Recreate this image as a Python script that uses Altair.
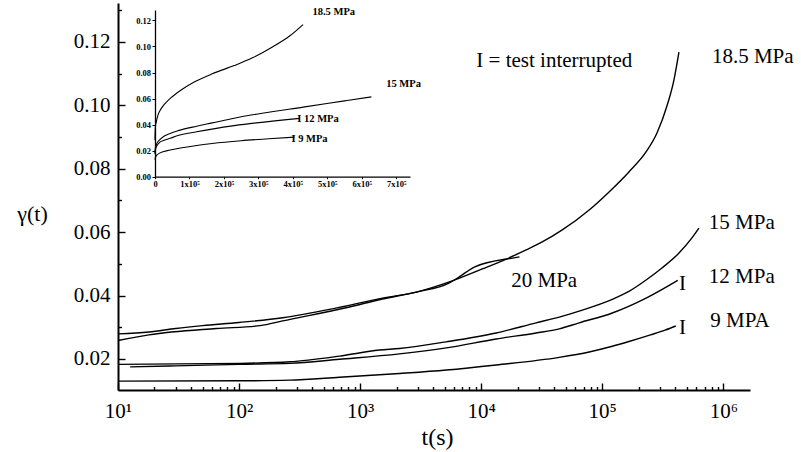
import altair as alt
import pandas as pd

FONT = "Liberation Serif, Times New Roman, Times, DejaVu Serif, serif"

# ---------------- data ----------------
t_185 = [10, 18, 30, 50, 100, 229, 590, 1530, 2920, 5460, 10200, 16100, 23500,
         31900, 46700, 77900, 113800, 166000, 229700, 283000, 342000, 390600,
         429700]
v_185 = [0.0279, 0.0285, 0.0296, 0.0305, 0.0315, 0.0330, 0.0358, 0.0392, 0.0411,
         0.0443, 0.0484, 0.0515, 0.0544, 0.0569, 0.0607, 0.0670, 0.0727, 0.0790,
         0.0853, 0.0913, 0.0998, 0.1080, 0.1168]

t_20 = [10, 18, 65, 149, 229, 816, 1530, 2920, 5460, 6600, 8750, 18600, 20700]
v_20 = [0.0258, 0.0276, 0.0296, 0.0305, 0.0320, 0.0364, 0.0389, 0.0411, 0.0440,
        0.0459, 0.0490, 0.0519, 0.0522]

t_15 = [10, 101, 262, 676, 1440, 2110, 5150, 13300, 28400, 44100, 64400, 121000,
        166000, 230000, 311000, 430000, 550000, 628000]
v_15 = [0.0183, 0.0186, 0.0191, 0.0209, 0.0228, 0.0233, 0.0254, 0.0282, 0.0314,
        0.0332, 0.0351, 0.0388, 0.0413, 0.0449, 0.0487, 0.0534, 0.0582, 0.0613]

t_12 = [12.6, 30, 101, 262, 676, 2110, 5150, 13300, 28400, 44100, 64400, 121000,
        230000, 420000]
v_12 = [0.0175, 0.0178, 0.0183, 0.0186, 0.0199, 0.0216, 0.0235, 0.0263, 0.0282,
        0.0295, 0.0314, 0.0345, 0.0392, 0.0448]

t_9 = [10, 101, 262, 676, 2110, 5150, 13300, 44100, 77900, 121000, 166000,
       250000, 330000, 405000]
v_9 = [0.0130, 0.0131, 0.0133, 0.0142, 0.0154, 0.0165, 0.0181, 0.0205, 0.0222,
       0.0240, 0.0255, 0.0276, 0.0291, 0.0304]

series_names = ["18.5 MPa", "20 MPa", "15 MPa", "12 MPa", "9 MPa"]
series_t = [t_185, t_20, t_15, t_12, t_9]
series_v = [v_185, v_20, v_15, v_12, v_9]
inset_series = ["18.5 MPa", "15 MPa", "12 MPa", "9 MPa"]

# main annotations
ann_text = ["I = test interrupted", "18.5 MPa", "15 MPa", "12 MPa", "9 MPA", "20 MPa"]
ann_t = [9120, 804000, 759000, 759000, 780000, 17700]
ann_v = [0.1140, 0.1153, 0.0629, 0.0459, 0.0320, 0.0446]

# "I" = test interrupted markers
mark_text = ["I", "I"]
mark_t = [460000, 460000]
mark_v = [0.0437, 0.0298]

# inset annotations
inset_text = ["18.5 MPa", "15 MPa", "I  12 MPa", "I 9 MPa"]
inset_t = [457000, 671000, 413000, 396000]
inset_v = [0.1263, 0.0713, 0.0444, 0.0290]

# axes ticks / labels
x_major = [10, 100, 1000, 10000, 100000, 1000000]
x_major_labels = ["10¹", "10²", "10³", "10⁴", "10⁵", "10⁶"]
x_minor = [m * 10 ** e for e in range(1, 6) for m in range(2, 10)]
y_major = [0.02, 0.04, 0.06, 0.08, 0.10, 0.12]
y_minor = [0.03, 0.05, 0.07, 0.09, 0.11, 0.13]
inset_x_ticks = [0, 100000, 200000, 300000, 400000, 500000, 600000, 700000]
inset_y_ticks = [0.0, 0.02, 0.04, 0.06, 0.08, 0.10, 0.12]

# ---------------- tables ----------------
rows = []
for name, ts, vs in zip(series_names, series_t, series_v):
    for t, v in zip(ts, vs):
        rows.append({"series": name, "t": t, "v": v})
df = pd.DataFrame(rows)
df_inset = df[df["series"].isin(inset_series)]
df_ann = pd.DataFrame({"t": ann_t, "v": ann_v, "label": ann_text})
df_mark = pd.DataFrame({"t": mark_t, "v": mark_v, "label": mark_text})
df_inset_ann = pd.DataFrame({"t": inset_t, "v": inset_v, "label": inset_text})

# ---------------- geometry ----------------
W, H = 632, 387
X_DOM = [10, 1.66e6]
Y_DOM = [0.0102, 0.1323]
xs = alt.Scale(type="log", domain=X_DOM, nice=False)
ys = alt.Scale(domain=Y_DOM, nice=False, zero=False)

IX_RANGE = [37, 292]
IY_RANGE = [173.7, 7]
ixs = alt.Scale(domain=[0, 740000], range=IX_RANGE, nice=False)
iys = alt.Scale(domain=[0, 0.128], range=IY_RANGE, nice=False, zero=False)

x_expr = " : ".join(
    f"datum.value == {v} ? '{l}'" for v, l in zip(x_major[:-1], x_major_labels[:-1])
) + f" : '{x_major_labels[-1]}'"

x_label_axis = alt.Axis(
    orient="bottom", values=x_major, labelExpr=x_expr, ticks=False, tickSize=0,
    domain=True, domainWidth=2, domainColor="black", labelFont=FONT,
    labelFontSize=21, labelColor="black", labelPadding=10, labelFlush=False,
    labelOverlap=False, grid=False, title="t(s)", titleFont=FONT,
    titleFontSize=24, titleFontWeight="normal", titleColor="black",
    titleX=319, titleY=47, titleBaseline="middle", titleAlign="center",
)
y_label_axis = alt.Axis(
    orient="left", values=y_major, format=".2f", ticks=False, tickSize=0,
    domain=True, domainWidth=2, domainColor="black", labelFont=FONT,
    labelFontSize=21, labelColor="black", labelPadding=8, labelFlush=False,
    labelOverlap=False, grid=False, title="γ(t)", titleFont=FONT,
    titleFontSize=22, titleFontWeight="normal", titleColor="black",
    titleAngle=0, titleX=-86, titleY=210, titleBaseline="middle",
    titleAlign="center",
)


def tick_axis(orient, values, size):
    return alt.Axis(
        orient=orient, values=values, labels=False, domain=False, ticks=True,
        tickSize=size, tickWidth=1.4, tickColor="black", offset=-size,
        grid=False, title=None,
    )


main_lines = alt.Chart(df).mark_line(
    color="black", strokeWidth=1.4, interpolate="monotone"
).encode(
    x=alt.X("t:Q", scale=xs, axis=x_label_axis),
    y=alt.Y("v:Q", scale=ys, axis=y_label_axis),
    detail="series:N",
    order="t:Q",
)

main_ann = alt.Chart(df_ann).mark_text(
    align="left", baseline="middle", font=FONT, fontSize=21, color="black"
).encode(
    x=alt.X("t:Q", scale=xs, axis=tick_axis("bottom", x_major, 7)),
    y=alt.Y("v:Q", scale=ys, axis=tick_axis("left", y_major, 7)),
    text="label:N",
)

main_marks = alt.Chart(df_mark).mark_text(
    align="center", baseline="middle", font=FONT, fontSize=21, color="black"
).encode(
    x=alt.X("t:Q", scale=xs, axis=tick_axis("bottom", x_minor, 3.5)),
    y=alt.Y("v:Q", scale=ys, axis=tick_axis("left", y_minor, 3.5)),
    text="label:N",
)

inset_x_axis = alt.Axis(
    orient="bottom", values=inset_x_ticks,
    labelExpr="datum.value == 0 ? '0' : (datum.value / 100000) + 'x10⁵'",
    offset=-(H - IY_RANGE[0]), tickSize=2, tickWidth=1, tickColor="black",
    domainWidth=1.3, domainColor="black", labelFont=FONT, labelFontSize=8.5,
    labelFontWeight="bold", labelColor="black", labelPadding=1,
    labelFlush=False, labelOverlap=False, grid=False, title=None,
)
inset_y_axis = alt.Axis(
    orient="left", values=inset_y_ticks, format=".2f",
    offset=-IX_RANGE[0], tickSize=3, tickWidth=1, tickColor="black",
    domainWidth=1.3, domainColor="black", labelFont=FONT, labelFontSize=8.5,
    labelFontWeight="bold", labelColor="black", labelPadding=1.5,
    labelFlush=False, labelOverlap=False, grid=False, title=None,
)

inset_lines = alt.Chart(df_inset).mark_line(
    color="black", strokeWidth=1.1, interpolate="monotone"
).encode(
    x=alt.X("t:Q", scale=ixs, axis=inset_x_axis),
    y=alt.Y("v:Q", scale=iys, axis=inset_y_axis),
    detail="series:N",
    order="t:Q",
)

inset_ann = alt.Chart(df_inset_ann).mark_text(
    align="left", baseline="middle", font=FONT, fontSize=10.5,
    fontWeight="bold", color="black"
).encode(
    x=alt.X("t:Q", scale=ixs, axis=None),
    y=alt.Y("v:Q", scale=iys, axis=None),
    text="label:N",
)

chart = alt.layer(
    main_lines, main_ann, main_marks, inset_lines, inset_ann
).resolve_scale(
    x="independent", y="independent"
).properties(
    width=W, height=H,
    padding={"left": 118, "top": 3, "right": 51, "bottom": 62},
    autosize=alt.AutoSizeParams(type="none"),
    background="white",
).configure_view(stroke=None)

chart.save("out.html", embed_options={"renderer": "svg", "actions": False})
